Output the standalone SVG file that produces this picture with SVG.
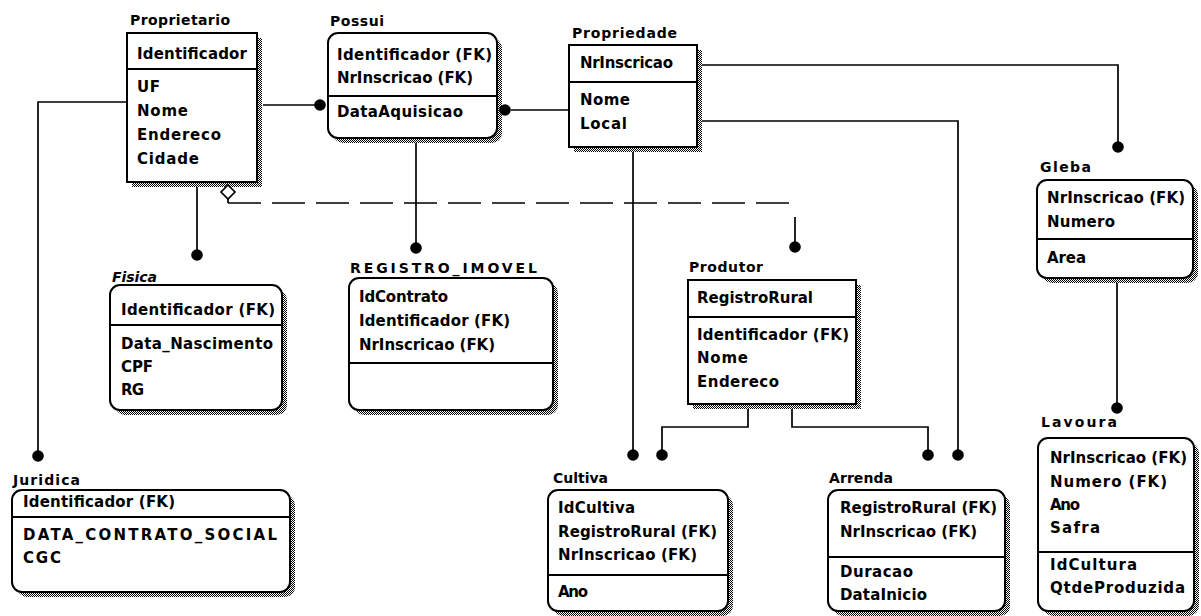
<svg xmlns="http://www.w3.org/2000/svg" width="1201" height="616" viewBox="0 0 1201 616">
  <defs>
    <!-- 50% dither used for the drop shadows -->
    <pattern id="dither" width="2" height="2" patternUnits="userSpaceOnUse">
      <rect width="2" height="2" fill="#fff"/>
      <rect width="1" height="1" fill="#000"/>
      <rect x="1" y="1" width="1" height="1" fill="#000"/>
    </pattern>
    <marker id="dot" markerUnits="userSpaceOnUse" markerWidth="14" markerHeight="14" refX="7" refY="7" orient="auto">
      <circle cx="7" cy="7" r="5.8" fill="#000"/>
    </marker>
    <style>
      .shadow { fill: url(#dither); }
      .box { fill: #fff; stroke: #000; stroke-width: 2; }
      .sep { stroke: #000; stroke-width: 2; }
      .t { font-family: "DejaVu Sans", "Liberation Sans", Arial, sans-serif; font-size: 15px; font-weight: bold; fill: #000; }
      .lbl { font-family: "DejaVu Sans", "Liberation Sans", Arial, sans-serif; font-size: 14px; font-weight: bold; fill: #000; }
      .conn { fill: none; stroke: #000; stroke-width: 1.7; }
      .rel { marker-end: url(#dot); }
      .dash { stroke-dasharray: 33 11; }
      .diamond { fill: #fff; stroke: #000; stroke-width: 1.7; }
    </style>
  </defs>

  <rect width="1201" height="616" fill="#fff"/>

  <!-- entities -->
  <g id="proprietario">
    <text class="lbl" x="130" y="25" textLength="100">Proprietario</text>
    <rect class="shadow" x="132" y="38" width="130" height="149"/>
    <rect class="box" x="127" y="33" width="130" height="149"/>
    <line class="sep" x1="127" y1="69" x2="257" y2="69"/>
    <text class="t" x="137" y="59" textLength="110">Identificador</text>
    <text class="t" x="137" y="92" textLength="23">UF</text>
    <text class="t" x="137" y="116" textLength="51">Nome</text>
    <text class="t" x="137" y="140" textLength="84">Endereco</text>
    <text class="t" x="137" y="164" textLength="62">Cidade</text>
  </g>

  <g id="possui">
    <text class="lbl" x="330" y="26" textLength="54">Possui</text>
    <rect class="shadow" x="333" y="38" width="169" height="105" rx="10"/>
    <rect class="box" x="328" y="33" width="169" height="105" rx="10"/>
    <line class="sep" x1="328" y1="96" x2="497" y2="96"/>
    <text class="t" x="337" y="60" textLength="155">Identificador (FK)</text>
    <text class="t" x="337" y="83" textLength="136">NrInscricao (FK)</text>
    <text class="t" x="337" y="117" textLength="126">DataAquisicao</text>
  </g>

  <g id="propriedade">
    <text class="lbl" x="572" y="38" textLength="105">Propriedade</text>
    <rect class="shadow" x="574" y="50" width="128" height="102"/>
    <rect class="box" x="569" y="45" width="128" height="102"/>
    <line class="sep" x1="569" y1="82" x2="697" y2="82"/>
    <text class="t" x="580" y="68" textLength="93">NrInscricao</text>
    <text class="t" x="580" y="105" textLength="50">Nome</text>
    <text class="t" x="580" y="129" textLength="47">Local</text>
  </g>

  <g id="gleba">
    <text class="lbl" x="1040" y="172" textLength="51">Gleba</text>
    <rect class="shadow" x="1042" y="185" width="156" height="98" rx="10"/>
    <rect class="box" x="1037" y="180" width="156" height="98" rx="10"/>
    <line class="sep" x1="1037" y1="239" x2="1193" y2="239"/>
    <text class="t" x="1047" y="203" textLength="138">NrInscricao (FK)</text>
    <text class="t" x="1047" y="227" textLength="68">Numero</text>
    <text class="t" x="1047" y="263" textLength="39">Area</text>
  </g>

  <g id="lavoura">
    <text class="lbl" x="1041" y="427" textLength="76">Lavoura</text>
    <rect class="shadow" x="1043" y="443" width="156" height="173" rx="10"/>
    <rect class="box" x="1038" y="438" width="156" height="173" rx="10"/>
    <line class="sep" x1="1038" y1="552" x2="1194" y2="552"/>
    <text class="t" x="1050" y="463" textLength="137">NrInscricao (FK)</text>
    <text class="t" x="1050" y="487" textLength="117">Numero (FK)</text>
    <text class="t" x="1050" y="510" textLength="30">Ano</text>
    <text class="t" x="1050" y="533" textLength="50">Safra</text>
    <text class="t" x="1050" y="570" textLength="87">IdCultura</text>
    <text class="t" x="1050" y="593" textLength="135">QtdeProduzida</text>
  </g>

  <g id="fisica">
    <text class="lbl" x="112" y="282" textLength="45" font-style="italic">Fisica</text>
    <rect class="shadow" x="115" y="290" width="172" height="125" rx="10"/>
    <rect class="box" x="110" y="285" width="172" height="125" rx="10"/>
    <line class="sep" x1="110" y1="325" x2="282" y2="325"/>
    <text class="t" x="121" y="315" textLength="154">Identificador (FK)</text>
    <text class="t" x="121" y="349" textLength="152">Data_Nascimento</text>
    <text class="t" x="121" y="372" textLength="32">CPF</text>
    <text class="t" x="121" y="395" textLength="23">RG</text>
  </g>

  <g id="registro_imovel">
    <text class="lbl" x="350" y="273" textLength="187">REGISTRO_IMOVEL</text>
    <rect class="shadow" x="354" y="283" width="204" height="132" rx="10"/>
    <rect class="box" x="349" y="278" width="204" height="132" rx="10"/>
    <line class="sep" x1="349" y1="363" x2="553" y2="363"/>
    <text class="t" x="359" y="302" textLength="89">IdContrato</text>
    <text class="t" x="359" y="326" textLength="151">Identificador (FK)</text>
    <text class="t" x="359" y="350" textLength="136">NrInscricao (FK)</text>
  </g>

  <g id="produtor">
    <text class="lbl" x="689" y="272" textLength="74">Produtor</text>
    <rect class="shadow" x="693" y="285" width="168" height="124"/>
    <rect class="box" x="688" y="280" width="168" height="124"/>
    <line class="sep" x1="688" y1="317" x2="856" y2="317"/>
    <text class="t" x="697" y="303" textLength="116">RegistroRural</text>
    <text class="t" x="697" y="340" textLength="152">Identificador (FK)</text>
    <text class="t" x="697" y="363" textLength="51">Nome</text>
    <text class="t" x="697" y="387" textLength="82">Endereco</text>
  </g>

  <g id="juridica">
    <text class="lbl" x="13" y="485" textLength="67">Juridica</text>
    <rect class="shadow" x="17" y="495" width="278" height="102" rx="10"/>
    <rect class="box" x="12" y="490" width="278" height="102" rx="10"/>
    <line class="sep" x1="12" y1="517" x2="290" y2="517"/>
    <text class="t" x="23" y="507" textLength="152">Identificador (FK)</text>
    <text class="t" x="23" y="540" textLength="254">DATA_CONTRATO_SOCIAL</text>
    <text class="t" x="23" y="563" textLength="38">CGC</text>
  </g>

  <g id="cultiva">
    <text class="lbl" x="553" y="483" textLength="55">Cultiva</text>
    <rect class="shadow" x="553" y="495" width="180" height="121" rx="10"/>
    <rect class="box" x="548" y="490" width="180" height="121" rx="10"/>
    <line class="sep" x1="548" y1="575" x2="728" y2="575"/>
    <text class="t" x="558" y="513" textLength="77">IdCultiva</text>
    <text class="t" x="558" y="537" textLength="159">RegistroRural (FK)</text>
    <text class="t" x="558" y="560" textLength="139">NrInscricao (FK)</text>
    <text class="t" x="558" y="597" textLength="30">Ano</text>
  </g>

  <g id="arrenda">
    <text class="lbl" x="829" y="483" textLength="64">Arrenda</text>
    <rect class="shadow" x="833" y="495" width="177" height="121" rx="10"/>
    <rect class="box" x="828" y="490" width="177" height="121" rx="10"/>
    <line class="sep" x1="828" y1="557" x2="1005" y2="557"/>
    <text class="t" x="840" y="513" textLength="157">RegistroRural (FK)</text>
    <text class="t" x="840" y="537" textLength="137">NrInscricao (FK)</text>
    <text class="t" x="840" y="577" textLength="73">Duracao</text>
    <text class="t" x="840" y="600" textLength="87">DataInicio</text>
  </g>

  <!-- relationships -->
  <g id="connectors">
    <polyline class="conn rel" points="127,102 38,102 38,456"/>
    <polyline class="conn rel" points="263,105 320,105"/>
    <polyline class="conn" points="511,110 569,110"/>
    <circle cx="505" cy="110" r="5.8" fill="#000"/>
    <polyline class="conn rel" points="416,143 416,248"/>
    <polyline class="conn rel" points="197,187 197,255"/>
    <polygon class="diamond" points="228,185 235,192 228,199 221,192"/>
    <polyline class="conn" points="228,199 228,203"/>
    <line class="conn dash" x1="228" y1="203" x2="797" y2="203"/>
    <polyline class="conn rel" points="795,217 795,247"/>
    <polyline class="conn rel" points="702,65 1118,65 1118,147"/>
    <polyline class="conn rel" points="702,121 958,121 958,455"/>
    <polyline class="conn rel" points="633,152 633,455"/>
    <polyline class="conn rel" points="748,409 748,427 662,427 662,455"/>
    <polyline class="conn rel" points="792,409 792,427 928,427 928,455"/>
    <polyline class="conn rel" points="1117,283 1117,408"/>
  </g>
</svg>
